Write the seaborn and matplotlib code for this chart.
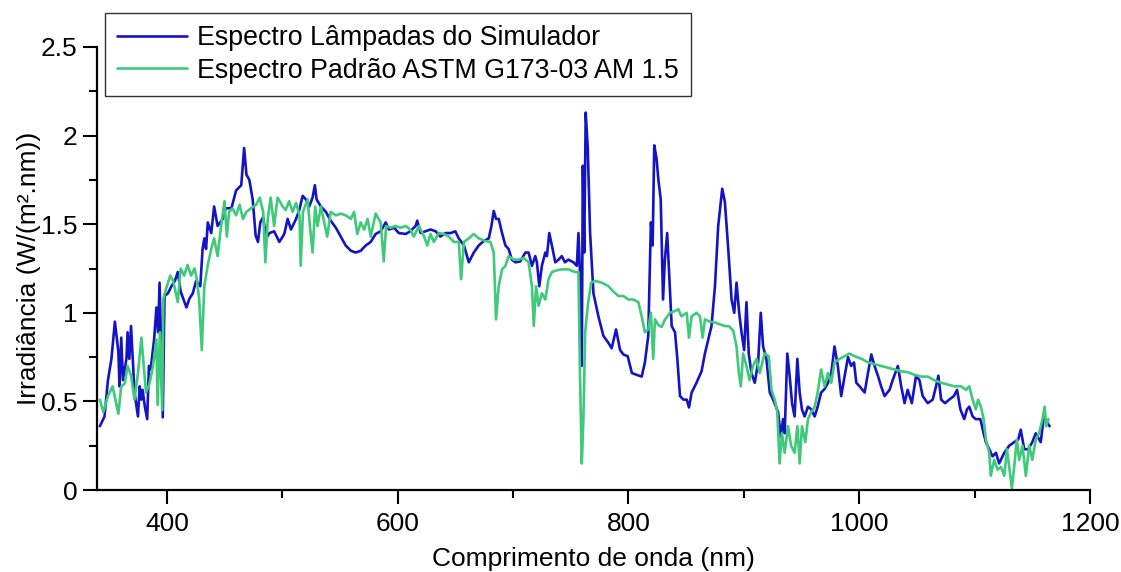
import matplotlib
matplotlib.use('Agg')
import matplotlib.pyplot as plt
import pandas as pd
import seaborn as sns
from matplotlib.ticker import MultipleLocator, FormatStrFormatter

# Espectro das lampadas do simulador
sim_nm = [342, 346, 349, 352, 355, 358, 359, 360.5, 362, 365, 366, 367.5, 369, 370.5, 372, 375, 376.5, 378, 379, 381,
          383, 384.5, 386, 389, 391, 392.5, 393.7, 395, 396.5, 398, 401, 404, 407, 409.5, 412, 417, 419.6, 422.5, 425.4, 429,
          431, 432.5, 434, 435.5, 438.5, 441, 444, 448.5, 451, 456, 460, 464.5, 467, 469, 471.5, 474.4, 477, 479, 481, 483.5,
          486, 489, 493, 497.5, 500.5, 502, 504.7, 507.6, 512, 514.8, 517.7, 520.5, 523.4, 526.3, 528.3, 529.8, 533.5, 537.8,
          542, 546.5, 550.8, 555, 559.5, 563.7, 568, 572.4, 576.7, 581, 585.3, 589.7, 592.5, 597, 601, 607, 611, 615.6, 617,
          620, 624, 628.5, 633, 637, 641.5, 646, 650, 653, 657.5, 661.7, 666, 670.3, 674.7, 679, 681.3, 683.3, 685.3, 687.6,
          690.5, 693.4, 696.2, 699, 702, 706.3, 710.7, 713.5, 716.4, 719.3, 720.7, 722.8, 725, 728, 729.4, 731.4, 733.7,
          736.6, 739.5, 742.3, 745, 748, 752.4, 755.3, 756.7, 758, 759.6, 760.5, 761.7, 763, 764.8, 766.8, 769.7, 774, 778.3,
          782.7, 785.5, 789.3, 792.8, 795.6, 799.4, 803, 807, 811.5, 814.3, 817.2, 819.5, 821, 822.4, 824.4, 826, 828, 830,
          831.6, 833.6, 835.2, 837.5, 840.4, 842.4, 844.7, 847.6, 850.5, 852.5, 854.8, 859, 863.4, 866.3, 869.2, 872, 875,
          877.8, 881.3, 883.6, 886.5, 889.4, 891.7, 893.7, 896, 898, 900.3, 902.3, 904.3, 906.6, 909.5, 912.4, 914.7, 916.7,
          919.6, 922.5, 925.4, 929.7, 932, 934, 935.4, 937.7, 939.8, 941.8, 944, 946.4, 948.4, 950.4, 952.7, 955.6, 958.5,
          961.4, 964, 967, 970, 973, 975.8, 978.6, 981.5, 984.4, 987.3, 990.3, 993, 995.5, 997.5, 1000.4, 1004.7, 1007.6,
          1010.5, 1013.3, 1016.2, 1019, 1022, 1026.3, 1029, 1033.5, 1036.4, 1039.3, 1042, 1045.6, 1049.3, 1052.2, 1055,
          1059.4, 1063.7, 1066.6, 1068.6, 1071, 1074.4, 1078, 1082, 1084.8, 1087.7, 1091, 1093.4, 1095.4, 1098.3, 1101,
          1105, 1107.8, 1109.8, 1112.7, 1115.6, 1118.5, 1121.3, 1125.7, 1130, 1134.3, 1137.8, 1140, 1143, 1146.4, 1150,
          1153, 1157.3, 1160, 1163, 1165]
sim_irr = [0.36, 0.415, 0.62, 0.74, 0.95, 0.78, 0.585, 0.86, 0.62, 0.74, 0.89, 0.74, 0.925, 0.74, 0.55, 0.415, 0.585, 0.51, 0.565, 0.47,
           0.40, 0.70, 0.68, 0.85, 1.03, 0.89, 1.17, 0.85, 0.41, 1.095, 1.11, 1.15, 1.18, 1.23, 1.12, 1.03, 1.08, 1.11, 1.18, 1.15,
           1.36, 1.42, 1.36, 1.51, 1.45, 1.60, 1.49, 1.53, 1.59, 1.59, 1.69, 1.72, 1.93, 1.78, 1.75, 1.64, 1.435, 1.40, 1.51, 1.54,
           1.42, 1.45, 1.46, 1.40, 1.43, 1.45, 1.53, 1.47, 1.53, 1.58, 1.66, 1.64, 1.60, 1.65, 1.72, 1.64, 1.60, 1.57,
           1.52, 1.48, 1.43, 1.38, 1.35, 1.34, 1.35, 1.38, 1.40, 1.445, 1.46, 1.51, 1.47, 1.48, 1.45, 1.445, 1.46, 1.49, 1.52,
           1.45, 1.46, 1.47, 1.46, 1.43, 1.45, 1.45, 1.46, 1.42, 1.38, 1.285, 1.34, 1.38, 1.405, 1.42, 1.49, 1.575, 1.53, 1.53,
           1.45, 1.38, 1.36, 1.30, 1.285, 1.29, 1.34, 1.34, 1.265, 1.32, 1.285, 1.15, 1.265, 1.34, 1.32, 1.45, 1.38,
           1.285, 1.30, 1.32, 1.285, 1.30, 1.285, 1.265, 1.45, 1.23, 0.70, 1.83, 1.34, 2.13, 1.925, 1.45, 1.11, 0.98, 0.87,
           0.83, 0.80, 0.906, 0.79, 0.765, 0.755, 0.66, 0.65, 0.64, 0.72, 0.87, 1.51, 1.38, 1.945, 1.87, 1.75, 1.64, 1.075,
           1.30, 1.45, 1.23, 0.925, 0.89, 0.74, 0.53, 0.51, 0.51, 0.466, 0.55, 0.605, 0.67, 0.77, 0.85, 0.925, 1.15,
           1.49, 1.70, 1.625, 1.36, 1.075, 1.0, 1.17, 1.0, 0.89, 0.79, 1.06, 0.77, 0.66, 0.605, 0.72, 1.0, 0.81,
           0.74, 0.55, 0.51, 0.44, 0.30, 0.40, 0.32, 0.77, 0.64, 0.49, 0.415, 0.74, 0.55, 0.455, 0.415, 0.47, 0.455,
           0.415, 0.47, 0.55, 0.57, 0.605, 0.66, 0.81, 0.70, 0.53, 0.64, 0.75, 0.70, 0.72, 0.605, 0.585, 0.55, 0.66,
           0.765, 0.70, 0.645, 0.585, 0.53, 0.565, 0.62, 0.70, 0.585, 0.49, 0.565, 0.49, 0.645, 0.62, 0.53,
           0.49, 0.51, 0.585, 0.645, 0.51, 0.49, 0.51, 0.53, 0.565, 0.455, 0.40, 0.455, 0.47, 0.415, 0.40,
           0.40, 0.32, 0.27, 0.23, 0.19, 0.21, 0.15, 0.21, 0.25, 0.27, 0.285, 0.34, 0.23, 0.23, 0.27,
           0.32, 0.27, 0.415, 0.38, 0.36]

# Espectro padrao ASTM G173-03 AM 1.5
astm_nm = [342, 345, 349, 353, 358, 360.5, 363.5, 366, 369, 372, 375, 378, 380, 382, 385, 388, 391, 392, 394, 396,
           397, 400, 403, 405.5, 409.5, 412, 415, 418, 421, 424, 426, 428, 430.3, 432.5, 435.5, 438.5, 441, 444, 447, 450,
           452, 454, 457, 460, 463, 466, 469, 473, 477.5, 480.5, 483.5, 485.4, 487.5, 490, 493, 496, 500.4, 503, 506, 509,
           512, 515, 516, 518, 522, 524, 526.3, 528.6, 530.6, 533.5, 536.4, 539, 542, 546.5, 550.8, 555, 559.5, 562.3, 565,
           568, 571, 574, 576.7, 581, 585.3, 588, 590, 594, 598, 602.6, 607, 611, 614, 618.5, 623, 625.7, 628.5, 631.4,
           635.7, 640, 644.4, 648.7, 653, 655, 657.5, 661.7, 666, 670.3, 676, 680.4, 683.3, 685.3, 687.6, 690.5, 693.4,
           696.2, 700.6, 705, 709.2, 713.5, 716.4, 718, 720, 722.2, 725, 728, 730.8, 733.7, 738, 742.3, 748, 753.8, 756.7,
           758, 759.6, 761, 762.5, 764.8, 767.7, 771, 777, 782.7, 787, 791.3, 795.6, 800, 804.3, 808.6, 811.5, 814.3,
           817.2, 819.5, 821.5, 823, 826, 828.8, 831.6, 836, 840.4, 843.3, 846, 850.5, 852.5, 854.8, 859, 862, 864.3,
           866.3, 870.6, 875, 879.3, 883.6, 887, 890.8, 893.7, 895.7, 897.4, 899.4, 902.3, 905, 908, 911, 913.8, 918,
           921.6, 924, 926.8, 929, 931, 933, 935.4, 938.3, 941, 944, 946.4, 948.4, 950.4, 953.3, 955.6, 958.5, 961.4,
           964, 967, 970, 973, 975.8, 978.6, 983, 987.3, 991.6, 996, 1002, 1007.6, 1013.3, 1019, 1024.9, 1030.6, 1036.4,
           1042, 1047.9, 1053.7, 1059.4, 1065, 1071, 1076.7, 1082.5, 1088.2, 1092.5, 1095.4, 1098.3, 1101, 1103, 1105.5,
           1107.8, 1109.8, 1112.7, 1114, 1117, 1119.9, 1122.8, 1125.7, 1128, 1130, 1132.3, 1134.3, 1136.6, 1138.6,
           1141.5, 1144.4, 1147.3, 1150, 1153, 1155.9, 1158.8, 1160.7, 1162, 1164]
astm_irr = [0.51, 0.44, 0.53, 0.585, 0.43, 0.585, 0.60, 0.70, 0.645, 0.51, 0.66, 0.86, 0.70, 0.55, 0.60, 0.70, 0.85, 0.48, 0.89, 0.45,
            1.08, 1.15, 1.21, 1.18, 1.06, 1.25, 1.21, 1.27, 1.21, 1.25, 1.19, 1.08, 0.79, 1.15, 1.27, 1.36, 1.42, 1.32, 1.49, 1.63,
            1.43, 1.57, 1.59, 1.55, 1.61, 1.53, 1.57, 1.59, 1.61, 1.65, 1.57, 1.285, 1.53, 1.65, 1.49, 1.65, 1.60, 1.58, 1.63, 1.57,
            1.62, 1.55, 1.265, 1.57, 1.64, 1.49, 1.34, 1.60, 1.49, 1.60, 1.51, 1.43, 1.57, 1.55, 1.56, 1.55, 1.53, 1.57, 1.445,
            1.51, 1.47, 1.53, 1.43, 1.56, 1.51, 1.29, 1.49, 1.48, 1.49, 1.48, 1.49, 1.47, 1.43, 1.49, 1.43, 1.38, 1.445, 1.40,
            1.45, 1.445, 1.43, 1.40, 1.40, 1.19, 1.40, 1.42, 1.445, 1.42, 1.405, 1.40, 1.34, 0.963, 1.15, 1.245, 1.265,
            1.32, 1.30, 1.30, 1.31, 1.285, 1.15, 0.925, 1.15, 1.04, 1.11, 1.075, 1.19, 1.23, 1.24, 1.245, 1.245, 1.23, 1.23,
            0.66, 0.15, 0.40, 0.89, 1.04, 1.17, 1.18, 1.17, 1.15, 1.12, 1.095, 1.095, 1.075, 1.075, 1.06, 0.98, 0.89,
            0.906, 1.0, 0.74, 0.963, 0.93, 0.92, 0.96, 1.0, 1.01, 1.02, 0.98, 1.0, 0.86, 0.98, 1.0, 0.98, 0.86,
            0.963, 0.95, 0.945, 0.935, 0.925, 0.925, 0.90, 0.81, 0.66, 0.585, 0.77, 0.70, 0.62, 0.70, 0.74, 0.66, 0.77,
            0.755, 0.565, 0.51, 0.44, 0.15, 0.32, 0.21, 0.36, 0.25, 0.21, 0.36, 0.15, 0.36, 0.27, 0.40, 0.44, 0.47,
            0.55, 0.68, 0.585, 0.66, 0.605, 0.72, 0.74, 0.755, 0.77, 0.755, 0.74, 0.72, 0.71, 0.70, 0.69, 0.68, 0.67,
            0.665, 0.65, 0.64, 0.64, 0.62, 0.605, 0.595, 0.585, 0.585, 0.565, 0.585, 0.51, 0.455, 0.51, 0.47,
            0.40, 0.285, 0.21, 0.08, 0.17, 0.115, 0.13, 0.08, 0.23, 0.13, 0.01, 0.13, 0.285, 0.17,
            0.25, 0.08, 0.25, 0.17, 0.285, 0.32, 0.40, 0.47, 0.36, 0.40]

labels = ['Espectro Lâmpadas do Simulador', 'Espectro Padrão ASTM G173-03 AM 1.5']
colors = ['#1414c4', '#3fc97a']

df = pd.concat([
    pd.DataFrame({'nm': sim_nm, 'irr': sim_irr, 'serie': labels[0]}),
    pd.DataFrame({'nm': astm_nm, 'irr': astm_irr, 'serie': labels[1]}),
], ignore_index=True)

sns.set_style('ticks')
plt.rcParams['font.family'] = ['Liberation Sans', 'DejaVu Sans']
plt.rcParams['text.color'] = 'black'
plt.rcParams['axes.labelcolor'] = 'black'

fig = plt.figure(figsize=(11.21, 5.72), dpi=100)
ax = fig.add_axes([97 / 1121, 82 / 572, 993 / 1121, 443 / 572])

sns.lineplot(data=df, x='nm', y='irr', hue='serie', palette=dict(zip(labels, colors)),
             estimator=None, sort=False, lw=1.9, ax=ax)

ax.set_xlim(339.5, 1200)
ax.set_ylim(0, 2.5)
ax.xaxis.set_major_locator(MultipleLocator(200))
ax.xaxis.set_minor_locator(MultipleLocator(100))
ax.yaxis.set_major_locator(MultipleLocator(0.5))
ax.yaxis.set_minor_locator(MultipleLocator(0.25))
ax.yaxis.set_major_formatter(FormatStrFormatter('%g'))
ax.tick_params(which='major', length=10, width=1.5, labelsize=19, colors='black', pad=4)
ax.tick_params(axis='x', which='major', pad=6)
ax.tick_params(which='minor', length=6, width=1.5, colors='black')
sns.despine(ax=ax)
for s in ['left', 'bottom']:
    ax.spines[s].set_linewidth(1.6)
    ax.spines[s].set_color('black')

ax.set_xlabel('Comprimento de onda (nm)', fontsize=19, labelpad=8)
ax.set_ylabel('Irradiância (W/(m².nm))', fontsize=19, labelpad=0)

handles, _ = ax.get_legend_handles_labels()
leg = ax.legend(handles, labels, loc='upper left', bbox_to_anchor=(105 / 1121, 1 - 13 / 572),
                bbox_transform=fig.transFigure, borderaxespad=0, fontsize=19.3, frameon=True,
                fancybox=False, edgecolor='#333333', framealpha=1, handlelength=2.6,
                handletextpad=0.38, labelspacing=0.25, borderpad=0.45)
leg.get_frame().set_linewidth(1.0)

fig.savefig('out.png', dpi=100)
